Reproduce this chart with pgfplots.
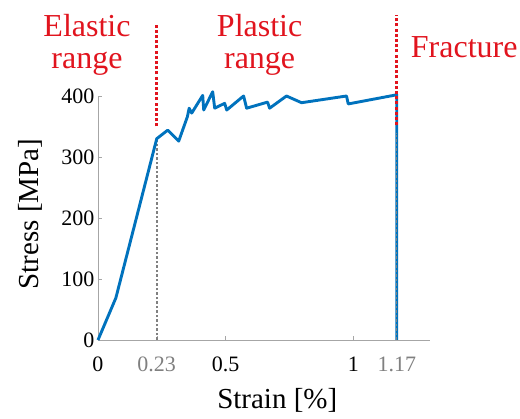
\documentclass[border=0pt]{standalone}
\usepackage{pgfplots}
\pgfplotsset{compat=1.18}
\usepackage{fontspec}
\setmainfont{Liberation Serif}
\definecolor{mblue}{RGB}{0,114,189}
\definecolor{mred}{RGB}{225,20,30}
\definecolor{tgray}{RGB}{128,128,128}
\begin{document}
\begin{tikzpicture}
\begin{axis}[
  at={(0,0)}, anchor=south west,
  scale only axis, width=332pt, height=244pt,
  xmin=0, xmax=1.3, ymin=0, ymax=400,
  axis lines=left, axis line style={draw=gray!70, -},
  xtick={0,0.23,0.5,1,1.17},
  xticklabels={0, \textcolor{tgray}{0.23}, 0.5, 1, \textcolor{tgray}{1.17}},
  ytick={0,100,200,300,400},
  tick style={draw=gray!70, thin}, major tick length=4pt, tick align=inside,
  tick label style={font=\rmfamily\fontsize{22}{22}\selectfont},
  xticklabel style={yshift=-13pt},
  /pgf/number format/assume math mode=true,
  xlabel={Strain [\%]}, ylabel={Stress [MPa]},
  label style={font=\rmfamily\fontsize{29}{29}\selectfont},
  xlabel style={at={(axis description cs:0.54,-0.246)}, anchor=center},
  ylabel style={at={(axis description cs:-0.205,0.516)}, anchor=center},
  clip=false,
]
\addplot[tgray, line width=2.2pt, dash pattern=on 2.5pt off 2pt] coordinates {(0.23,0) (0.23,330)};
\addplot[mblue, line width=2.9pt, line join=round] coordinates {
(0,0)(0.07,69)(0.23,330)(0.273,344)(0.316,326)(0.35,366)(0.357,380)(0.367,372)
(0.41,401)(0.414,377)(0.449,407)(0.457,380)(0.496,388)(0.504,377)(0.57,400)
(0.582,380)(0.664,390)(0.672,380)(0.738,400)(0.797,389)(0.973,400)(0.98,387)
(1.17,402)(1.17,0)};
\addplot[tgray, line width=1.4pt, dash pattern=on 2.5pt off 2pt] coordinates {(1.17,0) (1.17,340)};
\addplot[mred, line width=2.6pt, dash pattern=on 3pt off 2.2pt] coordinates {(0.23,350) (0.23,520)};
\addplot[mred, line width=2.6pt, dash pattern=on 3pt off 2.2pt] coordinates {(1.17,352) (1.17,533)};
\node[mred, align=center, font=\rmfamily\fontsize{32}{32}\selectfont] at (axis cs:-0.043,484) {Elastic\\range};
\node[mred, align=center, font=\rmfamily\fontsize{32}{32}\selectfont] at (axis cs:0.633,484) {Plastic\\range};
\node[mred, align=center, font=\rmfamily\fontsize{32}{32}\selectfont] at (axis cs:1.434,480) {Fracture};
\end{axis}
\pgfresetboundingbox
\useasboundingbox (-98pt,-79pt) rectangle (422pt,340pt);
\end{tikzpicture}
\end{document}
